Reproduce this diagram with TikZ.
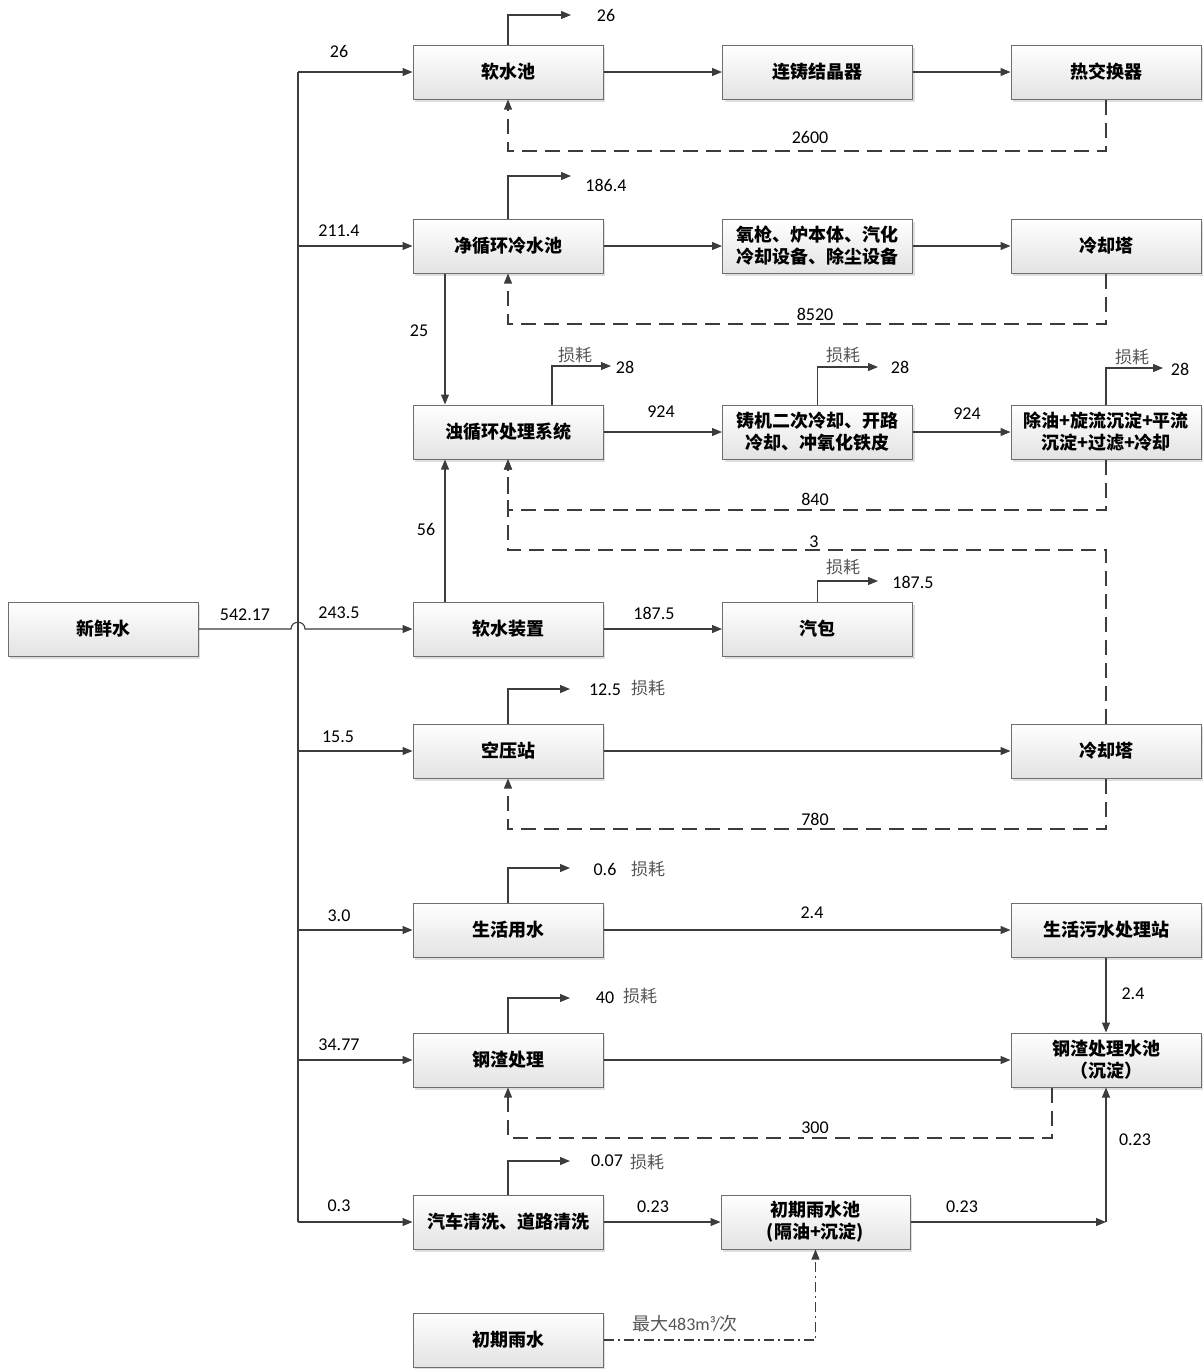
\documentclass[tikz,border=0pt]{standalone}
\usepackage{fontspec}
\setmainfont{Carlito}
\newfontfamily\cjk{Noto Sans CJK SC}
\usetikzlibrary{arrows.meta,shadows}
\definecolor{ln}{HTML}{3C3C3C}
\definecolor{bd}{HTML}{6E6E6E}
\definecolor{lb}{HTML}{555555}
\begin{document}
\begin{tikzpicture}[x=1pt,y=-1pt,
  box/.style={draw=bd, line width=1pt, top color=white, bottom color=gray!22,
    minimum width=190pt, minimum height=54pt, inner sep=0pt, align=center,
    font=\cjk\bfseries\fontsize{18}{22}\selectfont,
    drop shadow={shadow xshift=2pt, shadow yshift=-2.5pt, opacity=0.25, fill=gray}},
  arr/.style={draw=ln, line width=1.1pt, -{Triangle[length=10pt,width=8pt]}},
  plain/.style={draw=ln, line width=1.1pt},
  dsh/.style={draw=ln, line width=1.1pt, dash pattern=on 15pt off 8pt},
  dsharr/.style={dsh, -{Triangle[length=10pt,width=8pt]}},
  dda/.style={draw=ln, line width=1.1pt, dash pattern=on 10pt off 4pt on 2pt off 4pt, -{Triangle[length=10pt,width=8pt]}},
  num/.style={font=\fontsize{18}{18}\selectfont, text=black, inner sep=0pt},
  loss/.style={font=\cjk\fontsize{17}{17}\selectfont, text=lb, inner sep=0pt}
]
\useasboundingbox (0,0) rectangle (1203,1369);

% boxes
\node[box] (b1) at (508,72) {软水池};
\node[box] (b2) at (817.5,72) {连铸结晶器};
\node[box] (b3) at (1106,72) {热交换器};
\node[box] (b4) at (508,246) {净循环冷水池};
\node[box] (b5) at (817.5,246) {氧枪、炉本体、汽化\\冷却设备、除尘设备};
\node[box] (b6) at (1106,246) {冷却塔};
\node[box] (b7) at (508,432) {浊循环处理系统};
\node[box] (b8) at (817.5,432) {铸机二次冷却、开路\\冷却、冲氧化铁皮};
\node[box] (b9) at (1106,432) {除油+旋流沉淀+平流\\沉淀+过滤+冷却};
\node[box] (b10) at (103,629) {新鲜水};
\node[box] (b11) at (508,629) {软水装置};
\node[box] (b12) at (817.5,629) {汽包};
\node[box] (b13) at (508,751) {空压站};
\node[box] (b14) at (1106,751) {冷却塔};
\node[box] (b15) at (508,930) {生活用水};
\node[box] (b16) at (1106,930) {生活污水处理站};
\node[box] (b17) at (508,1060) {钢渣处理};
\node[box] (b18) at (1106,1060) {钢渣处理水池\\（沉淀）};
\node[box] (b19) at (508,1222) {汽车清洗、道路清洗};
\node[box, minimum width=189pt] (b20) at (815.5,1222) {初期雨水池\\(隔油+沉淀)};
\node[box] (b21) at (508,1340) {初期雨水};

% trunk
\coordinate (t1) at (298,72);
\coordinate (t2) at (298,246);
\coordinate (t4) at (298,751);
\coordinate (t5) at (298,930);
\coordinate (t6) at (298,1060);
\coordinate (t7) at (298,1222);
\draw[plain] (t1) -- (t7);
\draw[arr] (t1) -- (b1.west);
\draw[arr] (t2) -- (b4.west);
\draw[arr] (b10.east) -- (291,629) .. controls (291,620) and (305,620) .. (305,629) -- (b11.west);
\draw[arr] (t4) -- (b13.west);
\draw[arr] (t5) -- (b15.west);
\draw[arr] (t6) -- (b17.west);
\draw[arr] (t7) -- (b19.west);

% horizontal flows
\draw[arr] (b1) -- (b2);
\draw[arr] (b2) -- (b3);
\draw[arr] (b4) -- (b5);
\draw[arr] (b5) -- (b6);
\draw[arr] (b7) -- (b8);
\draw[arr] (b8) -- (b9);
\draw[arr] (b11) -- (b12);
\draw[arr] (b13) -- (b14);
\draw[arr] (b15) -- (b16);
\draw[arr] (b17) -- (b18);
\draw[arr] (b19) -- (b20);
\coordinate (j) at (1106,1222);
\draw[arr] (b20.east) -- (j);
\draw[arr] (j) -- (b18.south);
\draw[arr] (b16) -- (b18);

% vertical flows
\draw[arr] ([xshift=-63pt]b4.south) -- ([xshift=-63pt]b7.north);
\draw[arr] ([xshift=-63pt]b11.north) -- ([xshift=-63pt]b7.south);

% loss outlets
\coordinate (e1) at (571,15);
\coordinate (e2) at (571,176);
\coordinate (e3) at (611,366);
\coordinate (e4) at (878,367);
\coordinate (e5) at (1163,368);
\coordinate (e6) at (878,581);
\coordinate (e7) at (570,689);
\coordinate (e8) at (570,868);
\coordinate (e9) at (570,998);
\coordinate (e10) at (570,1161);
\draw[arr] (b1.north) |- (e1);
\draw[arr] (b4.north) |- (e2);
\draw[arr] ([xshift=44pt]b7.north) |- (e3);
\draw[arr] (b8.north) |- (e4);
\draw[arr] (b9.north) |- (e5);
\draw[arr] (b12.north) |- (e6);
\draw[arr] (b13.north) |- (e7);
\draw[arr] (b15.north) |- (e8);
\draw[arr] (b17.north) |- (e9);
\draw[arr] (b19.north) |- (e10);

% dashed returns
\draw[dsharr] (b3.south) |- (508,151) -- (b1.south);
\draw[dsharr] (b6.south) |- (508,324) -- (b4.south);
\draw[dsharr] (b9.south) |- (508,510) -- (b7.south);
\draw[dsharr] (b14.north) |- (508,550) -- (b7.south);
\draw[dsharr] (b14.south) |- (508,829) -- (b13.south);
\draw[dsharr] ([xshift=-54pt]b18.south) |- (508,1138) -- (b17.south);
\draw[dda] (b21.east) -| (b20.south);

% labels
\node[num] (n1) at (606,15) {26};
\node[num] (n2) at (339,51) {26};
\node[num] (n3) at (606,185) {186.4};
\node[num] (n4) at (339,231) {211.4};
\node[num] (n5) at (810,137) {2600};
\node[num] (n6) at (815,314) {8520};
\node[num] (n7) at (419,331) {25};
\node[loss] (n8) at (575,355) {损耗};
\node[num] (n9) at (625,367) {28};
\node[num] (n10) at (661,412) {924};
\node[loss] (n11) at (843,355) {损耗};
\node[num] (n12) at (900,367) {28};
\node[num] (n13) at (967,414) {924};
\node[loss] (n14) at (1132,357) {损耗};
\node[num] (n15) at (1180,369) {28};
\node[num] (n16) at (815,499) {840};
\node[num] (n17) at (814,542) {3};
\node[loss] (n18) at (843,567) {损耗};
\node[num] (n19) at (913,582) {187.5};
\node[num] (n20) at (654,613) {187.5};
\node[num] (n21) at (426,529) {56};
\node[num] (n22) at (245,615) {542.17};
\node[num] (n23) at (339,613) {243.5};
\node[num] (n24) at (338,737) {15.5};
\node[num] (n25) at (605,690) {12.5};
\node[loss] (n26) at (648,688) {损耗};
\node[num] (n27) at (815,819) {780};
\node[num] (n28) at (339,916) {3.0};
\node[num] (n29) at (605,869) {0.6};
\node[loss] (n30) at (648,869) {损耗};
\node[num] (n31) at (812,913) {2.4};
\node[num] (n32) at (1133,994) {2.4};
\node[num] (n33) at (605,998) {40};
\node[loss] (n34) at (640,996) {损耗};
\node[num] (n35) at (339,1045) {34.77};
\node[num] (n36) at (815,1128) {300};
\node[num] (n37) at (1135,1140) {0.23};
\node[num] (n38) at (607,1161) {0.07};
\node[loss] (n39) at (647,1162) {损耗};
\node[num] (n40) at (339,1206) {0.3};
\node[num] (n41) at (653,1207) {0.23};
\node[num] (n42) at (962,1207) {0.23};
\node[num, text=lb] (n43) at (685,1324) {{\cjk 最大}483m³/{\cjk 次}};
\end{tikzpicture}
\end{document}
